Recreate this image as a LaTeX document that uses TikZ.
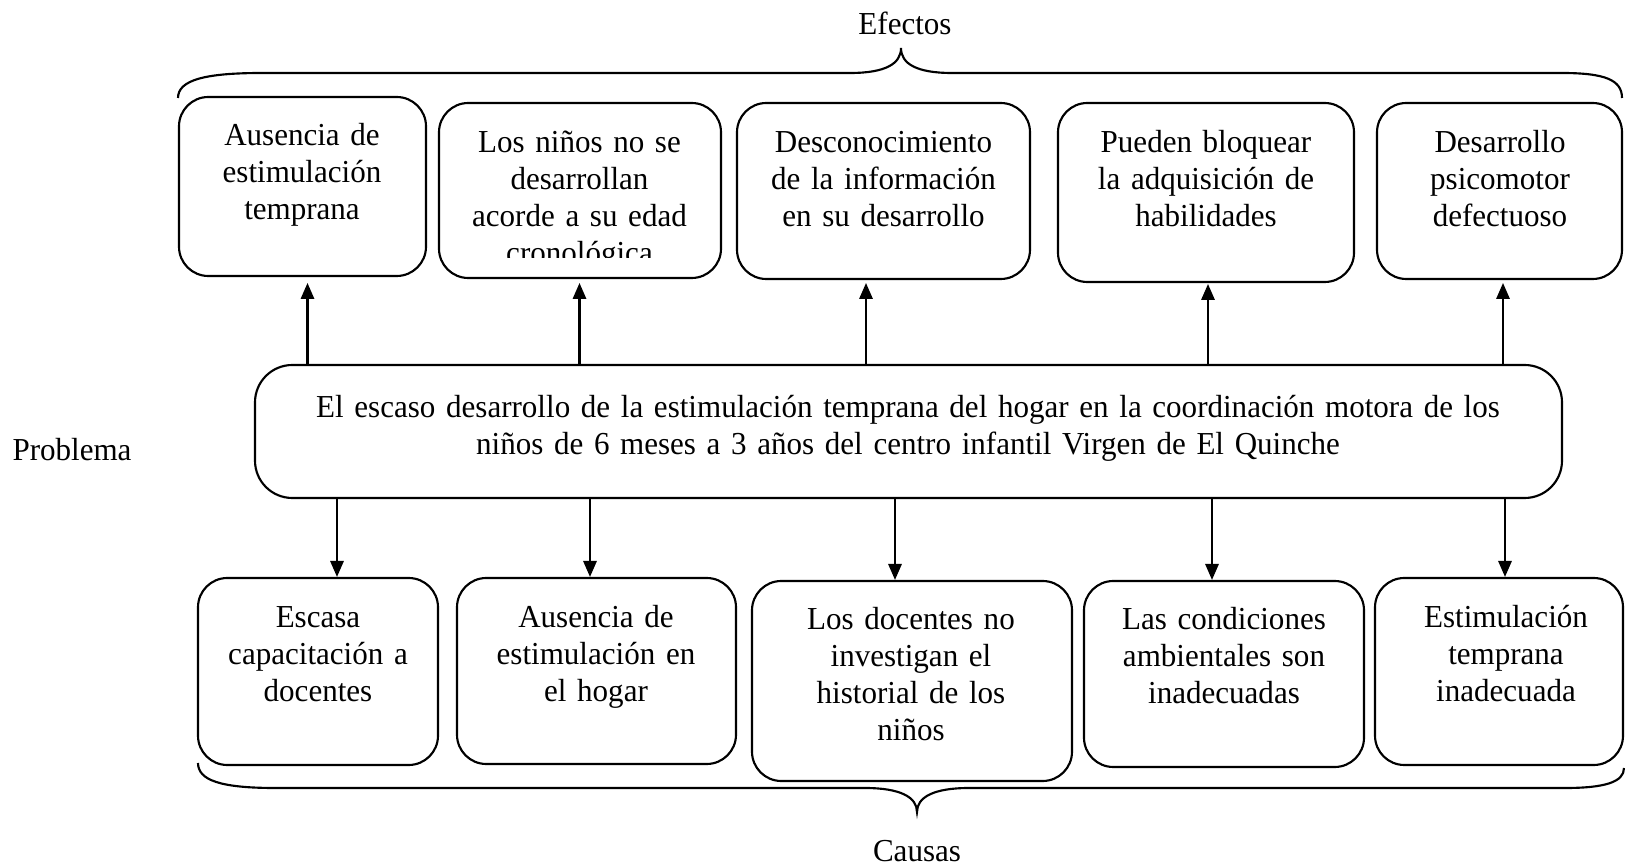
\documentclass[tikz,border=0pt]{standalone}
\usepackage{fontspec}
\setmainfont{Liberation Serif}[FakeStretch=0.97]
\usetikzlibrary{arrows.meta,fit}
\begin{document}
\begin{tikzpicture}[x=0.375pt,y=-0.375pt,
  box/.style={draw,line width=0.8pt,rounded corners=11pt,inner sep=0pt},
  pbox/.style={box,rounded corners=14pt},
  txt/.style={font=\fontsize{12pt}{13.8pt}\selectfont,align=center,inner sep=0pt,anchor=base,text width=120pt},
  lbl/.style={font=\fontsize{12pt}{13.8pt}\selectfont,inner sep=0pt},
  arr/.style={-{Triangle[length=6pt,width=5pt]},line width=0.8pt},
  bracestyle/.style={line width=0.8pt}]
\useasboundingbox (0,0) rectangle (1625,865);

% labels
\node[lbl,anchor=base] (efectos) at (905,35) {Efectos};
\node[lbl,anchor=base] (causas) at (917,862) {Causas};
\node[lbl,anchor=base west] (problema) at (12,461) {Problema};

% top brace
\draw[bracestyle] (178,98) .. controls (178,80) and (205,73) .. (262,73)
  -- (850,73) .. controls (885,73) and (901,64) .. (901,48)
  .. controls (901,64) and (917,73) .. (952,73)
  -- (1562,73) .. controls (1605,73) and (1622,80) .. (1622,98);

% bottom brace
\draw[bracestyle] (198,763) .. controls (198,780) and (220,788) .. (275,788)
  -- (865,788) .. controls (900,788) and (917,797) .. (917,812)
  .. controls (917,797) and (934,788) .. (969,788)
  -- (1565,788) .. controls (1605,788) and (1624,782) .. (1624,768);

% effect boxes
\node[box,fit={(179,97) (426,276)}] (e1) {};
\node[box,fit={(439,103) (721,278)}] (e2) {};
\node[box,fit={(737,103) (1030,279)}] (e3) {};
\node[box,fit={(1058,103) (1354,282)}] (e4) {};
\node[box,fit={(1377,103) (1622,279)}] (e5) {};

\node[txt] (e1t) at (302,146) {Ausencia de\\estimulación\\temprana};
\begin{scope}
\clip (439,103) rectangle (721,258);
\node[txt] (e2t) at (579.5,153) {Los niños no se\\desarrollan\\acorde a su edad\\cronológica};
\end{scope}
\node[txt] (e3t) at (883.5,153) {Desconocimiento\\de la información\\en su desarrollo};
\node[txt] (e4t) at (1206,153) {Pueden bloquear\\la adquisición de\\habilidades};
\node[txt] (e5t) at (1500,153) {Desarrollo\\psicomotor\\defectuoso};

% problem box
\node[pbox,fit={(255,365) (1562,498)}] (p) {};
\node[txt,text width=480pt] (pt) at (908,418) {El escaso desarrollo de la estimulación temprana del hogar en la coordinación motora de los\\niños de 6 meses a 3 años del centro infantil Virgen de El Quinche};

% cause boxes
\node[box,fit={(198,578) (438,765)}] (c1) {};
\node[box,fit={(457,578) (736,764)}] (c2) {};
\node[box,fit={(752,581) (1072,781)}] (c3) {};
\node[box,fit={(1084,581) (1364,767)}] (c4) {};
\node[box,fit={(1375,578) (1623,765)}] (c5) {};

\node[txt] (c1t) at (318,628) {Escasa\\capacitación a\\docentes};
\node[txt] (c2t) at (596,628) {Ausencia de\\estimulación en\\el hogar};
\node[txt] (c3t) at (911,630) {Los docentes no\\investigan el\\historial de los\\niños};
\node[txt] (c4t) at (1224,630) {Las condiciones\\ambientales son\\inadecuadas};
\node[txt] (c5t) at (1506,628) {Estimulación\\temprana\\inadecuada};

% arrows up
\coordinate (u1) at (307.5,283);
\coordinate (u2) at (579.5,283);
\coordinate (u3) at (866,283);
\coordinate (u4) at (1208,284);
\coordinate (u5) at (1503,283);
\foreach \i in {1,...,5} {\draw[arr] (p.north -| u\i) -- (u\i);}

% arrows down
\coordinate (v1) at (337,0);
\coordinate (v2) at (590,0);
\coordinate (v3) at (895,0);
\coordinate (v4) at (1212,0);
\coordinate (v5) at (1505,0);
\foreach \i in {1,...,5} {\draw[arr] (p.south -| v\i) -- (c\i.north -| v\i);}
\end{tikzpicture}
\end{document}
